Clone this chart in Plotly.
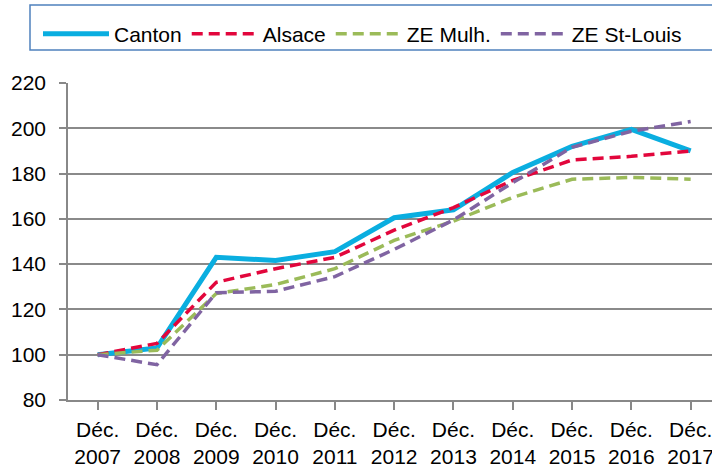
import plotly.graph_objects as go

categories = ["Déc.<br>2007", "Déc.<br>2008", "Déc.<br>2009", "Déc.<br>2010", "Déc.<br>2011",
              "Déc.<br>2012", "Déc.<br>2013", "Déc.<br>2014", "Déc.<br>2015", "Déc.<br>2016",
              "Déc.<br>2017"]
canton = [100, 103, 143, 141.6, 145.5, 160.5, 164, 180.5, 192, 199.5, 190]
alsace = [100, 105, 132, 138, 143, 155, 165, 177, 186, 187.6, 190]
ze_mulh = [100, 102, 127, 131, 138, 150.5, 159, 169.5, 177.5, 178.3, 177.5]
ze_stlouis = [100, 95.6, 127.4, 128, 134.5, 146.5, 159.5, 176, 191.6, 198.7, 203]
y_ticks = [80, 100, 120, 140, 160, 180, 200, 220]

FONT = "Liberation Sans, Arial, sans-serif"

fig = go.Figure()
series = [
    ("Canton", canton, "#0AAEE0", 5, "solid"),
    ("Alsace", alsace, "#E2063C", 3.5, "11px,6px"),
    ("ZE Mulh.", ze_mulh, "#9BBB59", 3.5, "11px,6px"),
    ("ZE St-Louis", ze_stlouis, "#8064A2", 3.5, "11px,6px"),
]
for name, vals, color, w, dash in series:
    fig.add_trace(go.Scatter(x=list(range(len(categories))), y=vals, name=name, mode="lines",
                             line=dict(color=color, width=w, dash=dash)))

fig.update_layout(
    width=712, height=468,
    margin=dict(l=68, r=0, t=83, b=68),
    paper_bgcolor="white", plot_bgcolor="white",
    font=dict(family=FONT, size=21, color="#000"),
    showlegend=True,
    legend=dict(orientation="h", xref="container", yref="container", x=38 / 712, y=1 - 34 / 468,
                xanchor="left", yanchor="middle", font=dict(size=21), itemwidth=66,
                bgcolor="rgba(0,0,0,0)", borderwidth=0, tracegroupgap=0),
    shapes=[dict(type="rect", xref="paper", yref="paper",
                 x0=(30 - 68) / 644, x1=(714 - 68) / 644,
                 y0=1 + (83 - 50) / 317, y1=1 + (83 - 5) / 317,
                 line=dict(color="#4F81BD", width=1.5))],
)
fig.update_xaxes(
    tickmode="array", tickvals=list(range(len(categories))), ticktext=categories,
    range=[-0.5, -0.5 + 644 / 59.3], showgrid=False, showline=True, linecolor="#888",
    linewidth=1.5, ticks="outside", ticklen=8, tickcolor="#888", tickwidth=1.5,
    tickson="boundaries", automargin=False, zeroline=False, tickfont=dict(size=21),
    ticklabelstandoff=2, ticklabeloverflow="allow",
)
fig.update_yaxes(
    range=[80, 220], tickvals=y_ticks, showgrid=True, gridcolor="#8a8a8a", gridwidth=1.5,
    showline=True, linecolor="#888", linewidth=1.5, ticks="outside", ticklen=7,
    tickcolor="#888", tickwidth=1.5, zeroline=False, automargin=False, tickfont=dict(size=21),
    ticklabelstandoff=9,
)
fig.write_html("out.html", config={"displayModeBar": False},
               post_script="document.body.style.margin='0';document.body.style.overflow='hidden';")
